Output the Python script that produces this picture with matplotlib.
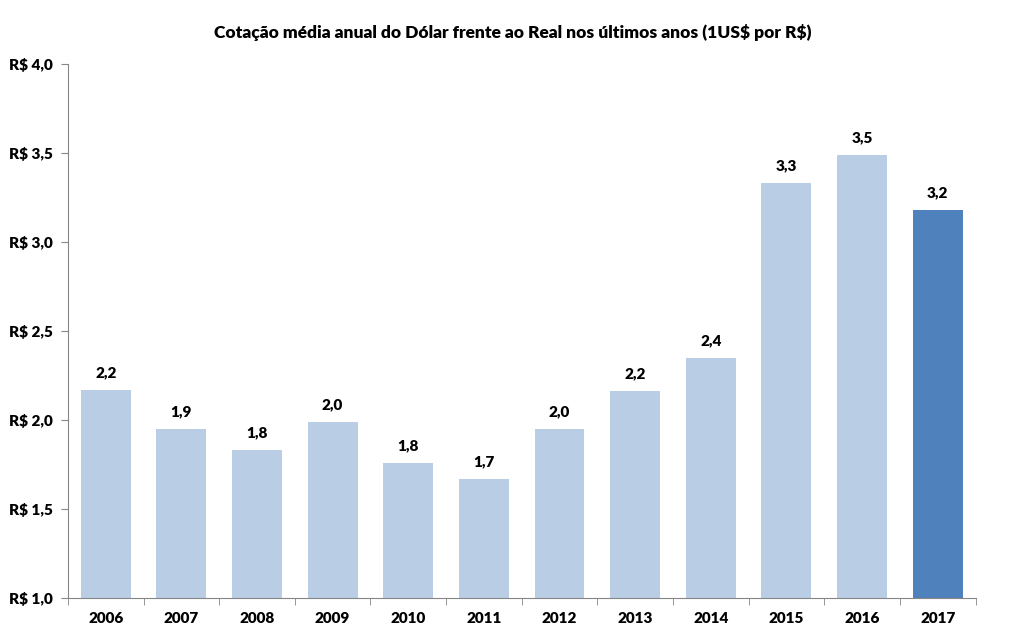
import matplotlib
matplotlib.use("Agg")
import matplotlib.pyplot as plt
import numpy as np

anos = ['2006', '2007', '2008', '2009', '2010', '2011', '2012', '2013', '2014', '2015', '2016', '2017']
cotacao = [2.17, 1.95, 1.83, 1.99, 1.76, 1.67, 1.95, 2.16, 2.35, 3.33, 3.49, 3.18]
rotulos = ['2,2', '1,9', '1,8', '2,0', '1,8', '1,7', '2,0', '2,2', '2,4', '3,3', '3,5', '3,2']
yticks = [1.0, 1.5, 2.0, 2.5, 3.0, 3.5, 4.0]
ytick_labels = ['R$ 1,0', 'R$ 1,5', 'R$ 2,0', 'R$ 2,5', 'R$ 3,0', 'R$ 3,5', 'R$ 4,0']

plt.rcParams['font.family'] = ['Lato', 'DejaVu Sans']
plt.rcParams['font.weight'] = 'bold'
plt.rcParams['text.parse_math'] = False

fig = plt.figure(figsize=(10.13, 6.32), dpi=100)
ax = fig.add_axes([0.067, 0.054, 0.896, 0.845])

x = np.arange(len(anos))
cores = ['#B9CDE5'] * (len(anos) - 1) + ['#4F81BD']
base = 1.0
ax.bar(x, np.array(cotacao) - base, bottom=base, width=0.66, color=cores)

for xi, v, r in zip(x, cotacao, rotulos):
    ax.text(xi, v + 0.06, r, ha='center', va='bottom', fontsize=11, fontweight='heavy')

ax.set_ylim(1.0, 4.0)
ax.set_xlim(-0.5, len(anos) - 0.5)
ax.set_yticks(yticks)
ax.set_yticklabels(ytick_labels, fontsize=11, fontweight='heavy')
ax.set_xticks(x)
ax.set_xticklabels(anos, fontsize=11, fontweight='heavy')
ax.set_xticks(np.arange(-0.5, len(anos), 1.0), minor=True)
ax.tick_params(axis='x', which='major', length=0, pad=10)
ax.tick_params(axis='x', which='minor', length=5, color='#868686')
ax.tick_params(axis='y', length=5, color='#868686', pad=6)

for s in ['top', 'right']:
    ax.spines[s].set_visible(False)
ax.spines['left'].set_color('#868686')
ax.spines['bottom'].set_color('#868686')

fig.text(0.506, 0.948, 'Cotação média anual do Dólar frente ao Real nos últimos anos (1US$ por R$)',
         ha='center', va='center', fontsize=12.5, fontweight='heavy')

fig.savefig('out.png', dpi=100)
